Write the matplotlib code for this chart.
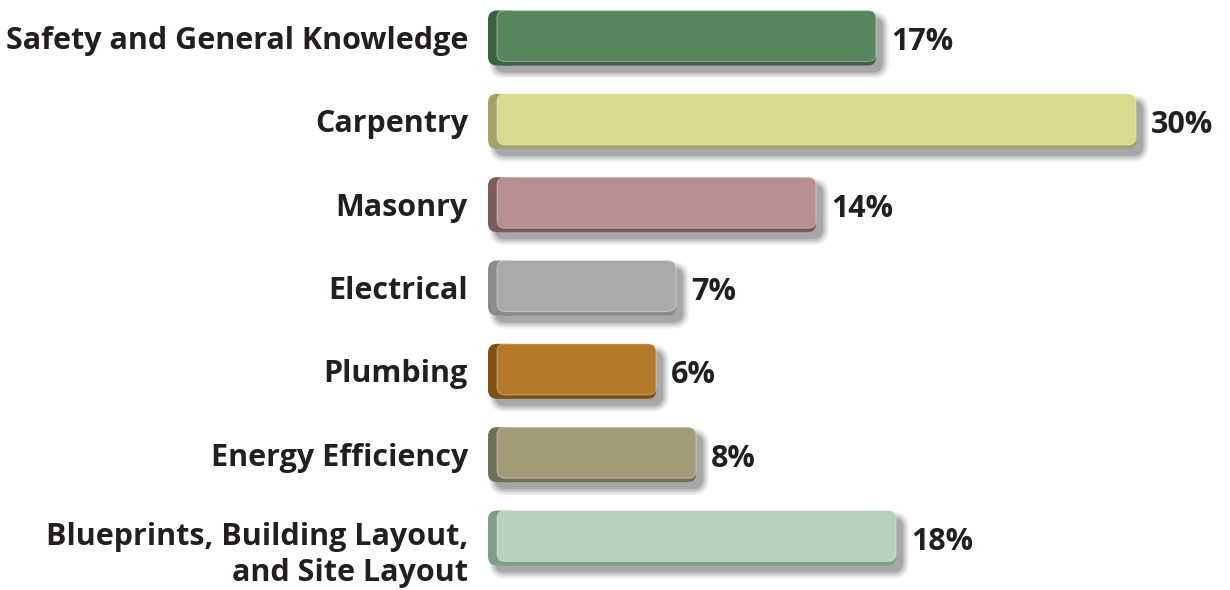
import matplotlib
matplotlib.use("Agg")
import matplotlib.pyplot as plt
from matplotlib.patches import FancyBboxPatch

categories = ["Safety and General Knowledge", "Carpentry", "Masonry", "Electrical",
              "Plumbing", "Energy Efficiency", "Blueprints, Building Layout,\nand Site Layout"]
values = [17, 30, 14, 7, 6, 8, 18]
labels = ["17%", "30%", "14%", "7%", "6%", "8%", "18%"]
face_colors = ["#57855E", "#DADB8F", "#B88F8F", "#A8A9AB", "#B5772A", "#A39B77", "#B5D1BA"]
side_colors = ["#3B6342", "#A3A366", "#80595A", "#8A8B8D", "#7F5214", "#727056", "#7F9E85"]

W, H = 1230, 590
fig = plt.figure(figsize=(W / 100, H / 100), dpi=100)
ax = fig.add_axes([488 / W, 0, 742 / W, 1])
ax.set_xlim(-2.4, 34.7)
ax.set_ylim(6.624, -0.456)
ax.axis("off")

xpp = (34.7 + 2.4) / 742        # x units per pixel
ypp = (6.624 + 0.456) / 590     # y units per pixel
asp = ypp / xpp
base = -2.4
bh = 55 * ypp
font = ["Open Sans", "DejaVu Sans"]


def rbox(x0, y0, w, h, r_px, **kw):
    p = FancyBboxPatch((x0, y0), w, h,
                       boxstyle=f"round,pad=0,rounding_size={r_px * xpp}",
                       mutation_aspect=asp, **kw)
    ax.add_patch(p)
    return p


for i, (v, fc, sc) in enumerate(zip(values, face_colors, side_colors)):
    y0 = i - bh / 2
    # soft shadow
    for k, a in enumerate([0.05, 0.06, 0.07, 0.09, 0.12]):
        g = (4 - k) * 1.5
        rbox(base + 7 * xpp - g * xpp, y0 + 7 * ypp - g * ypp, (v - base) + 2 * g * xpp,
             bh + 2 * g * ypp, 10 + g, facecolor="black", edgecolor="none", alpha=a, zorder=1)
    # dark side cap
    rbox(base, y0, 30 * xpp, bh, 9, facecolor=sc, edgecolor="none", zorder=2)
    # bottom dark strip of face
    rbox(base + 9 * xpp, y0 + 2 * ypp, v - base - 9 * xpp, bh - 2 * ypp, 8,
         facecolor=sc, edgecolor="none", zorder=3)
    # main face
    rbox(base + 9 * xpp, y0, v - base - 9 * xpp, bh - 4 * ypp, 8,
         facecolor=fc, edgecolor=(1, 1, 1, 0.35), linewidth=0.8, zorder=4)
    # value label
    ax.annotate(labels[i], xy=(v, i), xytext=(15, -4), textcoords="offset pixels",
                ha="left", va="center", fontsize=22, fontweight="bold",
                family=font, color="#231f20")
    # category label
    dy = -17 if "\n" in categories[i] else -3
    ax.annotate(categories[i], xy=(base, i), xytext=(-20, dy), textcoords="offset pixels",
                ha="right", va="center", fontsize=22, fontweight="bold",
                family=font, color="#231f20", linespacing=1.25, annotation_clip=False)

fig.savefig("out.png", dpi=100)
